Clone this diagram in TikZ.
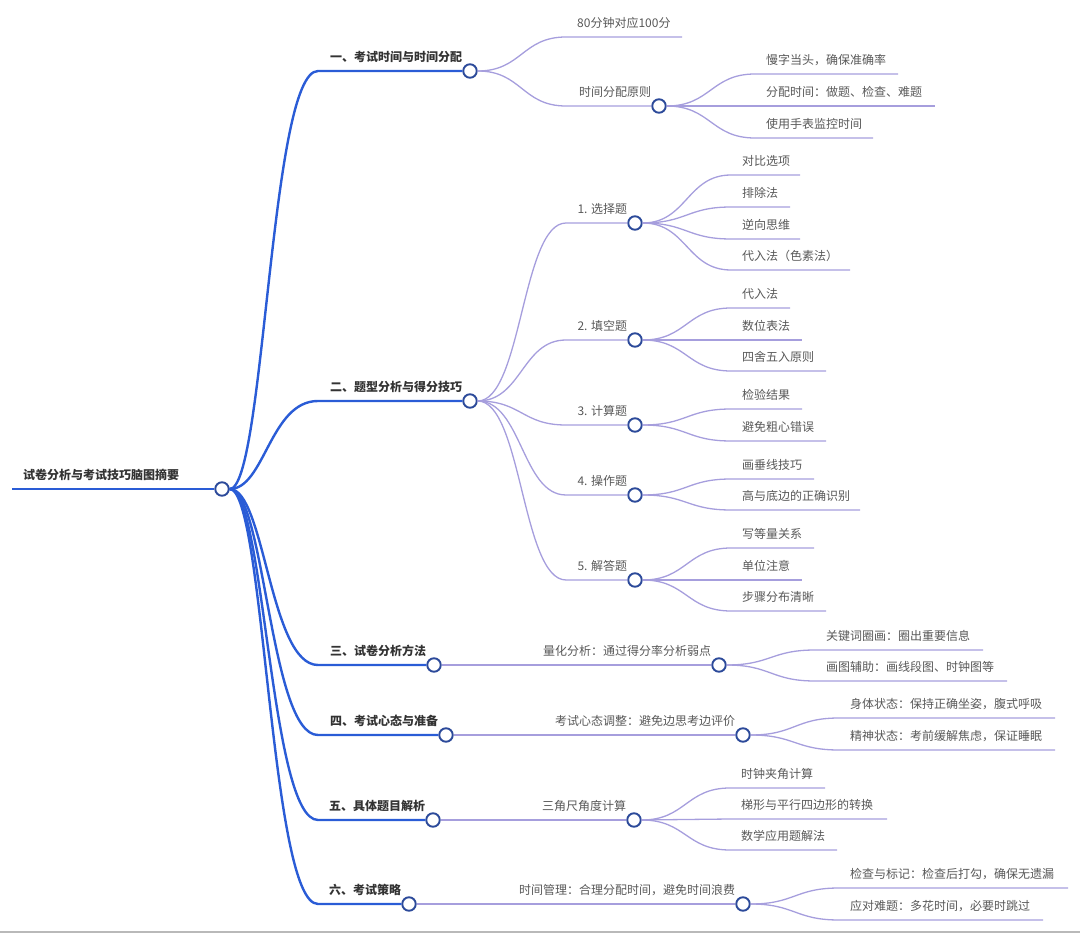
\documentclass[tikz,border=0pt]{standalone}
\usepackage{fontspec}
\newfontfamily\cjk{Noto Sans CJK SC}
\definecolor{branchblue}{HTML}{2A5CD6}
\definecolor{dotblue}{HTML}{2C4A9A}
\definecolor{twiglilac}{HTML}{A69EDD}
\definecolor{leafgray}{HTML}{585858}
\definecolor{headgray}{HTML}{333333}
\tikzset{
	dot/.style={circle, draw=dotblue, line width=1.9pt, fill=white, minimum size=13.5pt, inner sep=0pt},
	branch/.style={draw=branchblue, line width=2.4pt},
	twig/.style={draw=twiglilac, line width=1.3pt},
	head/.style={font=\cjk\bfseries\fontsize{12}{14}\selectfont, text=headgray, inner sep=0pt, anchor=base east},
	leaf/.style={font=\cjk\fontsize{12}{14}\selectfont, text=leafgray, inner sep=0pt, anchor=base west},
	midtext/.style={leaf, anchor=base east},
}
\begin{document}
\begin{tikzpicture}[x=1pt, y=-1pt]
		\useasboundingbox (0,0) rectangle (1080,933);

		% Root
		\node[dot] (root) at (222,489) {};
		\coordinate (rootstart) at (12,489);
		\draw[branch] (rootstart) -- (root.west);
		\node[head, anchor=base west] (roottext) at (23,479.5) {试卷分析与考试技巧脑图摘要};

		% Main branches
		\foreach \i/\x/\y/\t in {1/470/71/一、考试时间与时间分配, 2/470/401/二、题型分析与得分技巧,
				3/434/665/三、试卷分析方法, 4/446/735/四、考试心态与准备,
				5/433/820/五、具体题目解析, 6/409/904/六、考试策略}{
			\node[dot] (m\i) at (\x,\y) {};
			\coordinate (m\i-in) at (318,\y);
			\draw[branch] (root.east) .. controls +(35,0) and +(-48,0) .. (m\i-in) -- (m\i.west);
			\node[head] (m\i-text) at ([yshift=9.5pt]m\i.west) {\t};
		}

		% Sub branches with children
		\foreach \n/\p/\sx/\x/\y/\t in {s11/m1/566/659/106/时间分配原则,
				s21/m2/566/635/223/1. 选择题, s22/m2/566/635/340/2. 填空题,
				s23/m2/566/635/425/3. 计算题, s24/m2/566/635/495/4. 操作题,
				s25/m2/566/635/580/5. 解答题,
				s3/m3/530/719/665/量化分析：通过得分率分析弱点,
				s4/m4/542/743/735/考试心态调整：避免边思考边评价,
				s5/m5/529/634/820/三角尺角度计算,
				s6/m6/505/743/904/时间管理：合理分配时间，避免时间浪费}{
			\node[dot] (\n) at (\x,\y) {};
			\coordinate (\n-in) at (\sx,\y);
			\draw[twig] (\p.east) .. controls +(44,0) and +(-44,0) .. (\n-in) -- (\n.west);
			\node[midtext] (\n-text) at ([yshift=9.5pt]\n.west) {\t};
		}

		% Leaves
		\foreach [count=\k] \p/\sx/\y/\e/\t in {m1/566/37/682/80分钟对应100分,
				s11/755/74/898/慢字当头，确保准确率, s11/755/106/935/分配时间：做题、检查、难题,
				s11/755/138/873/使用手表监控时间,
				s21/731/175/800/对比选项, s21/731/207/790/排除法, s21/731/239/800/逆向思维,
				s21/731/270/850/代入法（色素法）,
				s22/731/308/790/代入法, s22/731/340/802/数位表法, s22/731/371/826/四舍五入原则,
				s23/731/409/802/检验结果, s23/731/441/826/避免粗心错误,
				s24/731/479/814/画垂线技巧, s24/731/510/860/高与底边的正确识别,
				s25/731/548/814/写等量关系, s25/731/580/802/单位注意, s25/731/611/826/步骤分布清晰,
				s3/815/650/983/关键词圈画：圈出重要信息, s3/815/681/1007/画图辅助：画线段图、时钟图等,
				s4/839/718/1055/身体状态：保持正确坐姿，腹式呼吸, s4/839/750/1055/精神状态：考前缓解焦虑，保证睡眠,
				s5/730/788/825/时钟夹角计算, s5/730/819/887/梯形与平行四边形的转换, s5/730/850/837/数学应用题解法,
				s6/839/888/1068/检查与标记：检查后打勾，确保无遗漏, s6/839/920/1043/应对难题：多花时间，必要时跳过}{
			\coordinate (leaf\k-a) at (\sx,\y);
			\coordinate (leaf\k-b) at (\e,\y);
			\draw[twig] (\p.east) .. controls +(44,0) and +(-44,0) .. (leaf\k-a) -- (leaf\k-b);
			\node[leaf] (leaf\k) at ([xshift=11pt,yshift=9.5pt]leaf\k-a) {\t};
		}

		% Bottom rule
		\draw[gray!55, line width=2pt] (0,932) -- (1080,932);
	\end{tikzpicture}
\end{document}
